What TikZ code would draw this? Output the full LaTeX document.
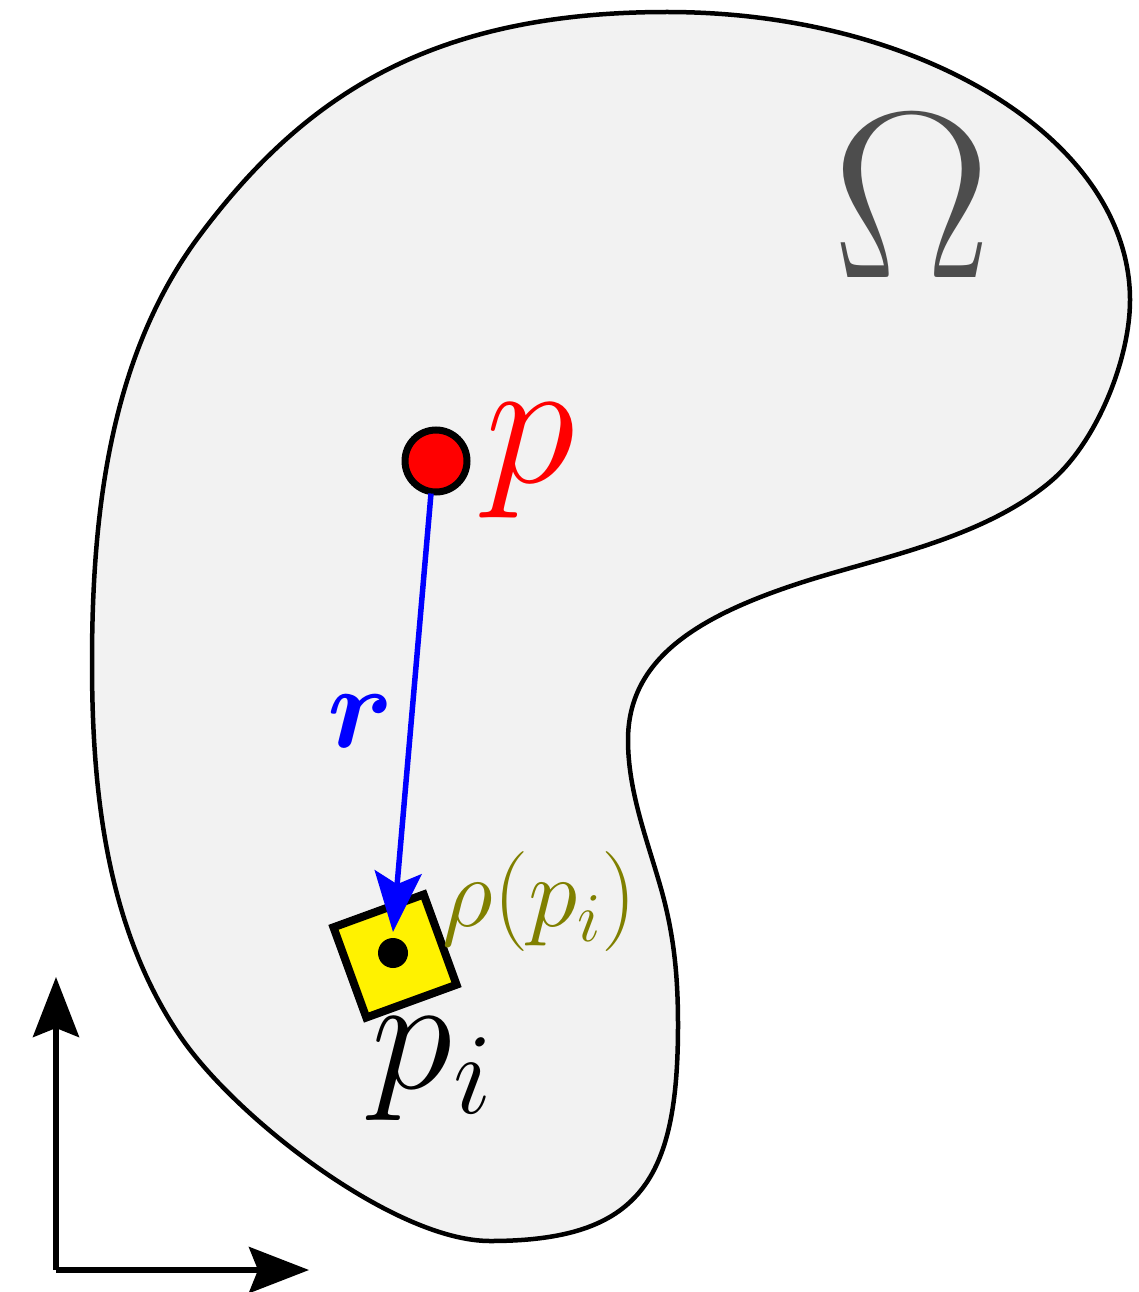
\RequirePackage{fix-cm}
\documentclass[tikz,border=0pt]{standalone}
\usepackage{bm}
\usetikzlibrary{arrows.meta}
\definecolor{blobfill}{RGB}{242,242,242}
\definecolor{omegagray}{RGB}{77,77,77}
\definecolor{olivetext}{RGB}{128,128,0}
\tikzset{
  axistip/.style={-{Stealth[length=60pt,width=46pt,inset=9pt]}},
  rtip/.style={-{Stealth[length=60pt,width=47pt,inset=12pt]}},
  outline/.style={draw=black,line width=4.5pt,fill=blobfill},
}
\begin{document}
\begin{tikzpicture}[x=1pt,y=-1pt]
\useasboundingbox (0,0) rectangle (1138,1292);
% domain
\draw[outline] (667,12) .. controls (923,12) and (1130,141) .. (1130,300)
 .. controls (1130,360) and (1096,443.5) .. (1050,482)
 .. controls (981,539.7) and (876,558.2) .. (800,583)
 .. controls (695.5,617) and (628,660) .. (628,740)
 .. controls (628,790) and (646.1,837) .. (660,885)
 .. controls (673.9,933) and (678,975) .. (678,1025)
 .. controls (678,1180) and (640,1241) .. (490,1241)
 .. controls (395,1241) and (236.2,1118.7) .. (180,1036)
 .. controls (107,928.5) and (92,793) .. (92,663)
 .. controls (92,513) and (109.9,355) .. (200,235)
 .. controls (302,99) and (427,12) .. (667,12) -- cycle;
\node[text=omegagray,font=\fontsize{238}{250}\selectfont] (omega) at (912,196) {$\Omega$};
% square
\node[draw=black,fill=yellow,line width=8pt,minimum size=96pt,inner sep=0pt,rotate=20] (sq) at (395,956) {};
\node[circle,fill=black,minimum size=30pt,inner sep=0pt] (dot) at (393,953) {};
% point p
\node[circle,draw=black,fill=red,line width=7pt,minimum size=62pt,inner sep=0pt] (p) at (436,461) {};
\node[text=red,font=\fontsize{183}{200}\selectfont] (plab) at (530,461) {$p$};
% arrow r
\coordinate (rend) at (393,932);
\draw[blue,line width=5.5pt,rtip] (p.south) ++(-5,-2) coordinate (pstart) (pstart) -- (rend);
\node[text=blue,font=\fontsize{118}{130}\selectfont] (rlab) at (361,721) {$\bm{r}$};
% labels
\node[text=olivetext,font=\fontsize{100}{110}\selectfont] (rho) at (540,901) {$\rho(p_i)$};
\node[text=black,font=\fontsize{165}{180}\selectfont] (pi) at (432,1069) {$p_i$};
% axes
\coordinate (origin) at (56,1270);
\coordinate (ytip) at (56,977);
\coordinate (xtip) at (309,1270);
\draw[line width=5.5pt,axistip] (origin) -- (ytip);
\draw[line width=5.5pt,axistip] (origin) -- (xtip);
\end{tikzpicture}
\end{document}
